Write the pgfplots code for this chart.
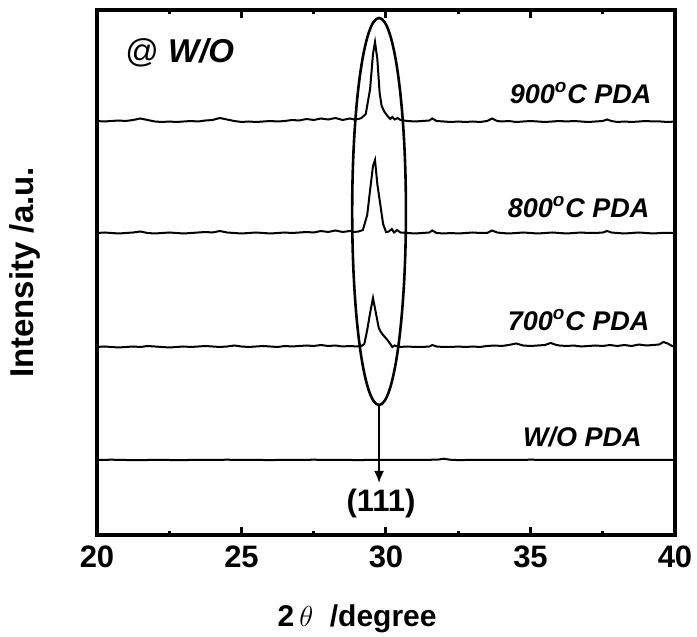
\documentclass[border=0pt]{standalone}
\usepackage{pgfplots}
\pgfplotsset{compat=1.18}
\usepackage{fontspec}
\setmainfont{Liberation Sans}
\usetikzlibrary{arrows.meta}
\begin{document}
\begin{tikzpicture}
\begin{axis}[
  scale only axis, width=289pt, height=262.5pt,
  xmin=20, xmax=40, ymin=0, ymax=525,
  xtick={20,25,30,35,40}, minor x tick num=1, ytick=\empty,
  axis line style={line width=2pt},
  major tick length=4pt, minor tick length=2pt,
  every tick/.style={line width=1.5pt, black},
  /pgf/number format/assume math mode=true,
  tick label style={font=\fontsize{15.5}{18}\selectfont\bfseries},
  xticklabel style={yshift=-2pt},
  xlabel={\textbf{2}\,$\theta$\ \ \textbf{/degree}},
  xlabel style={font=\fontsize{15}{18}\selectfont, at={(axis description cs:0.45,0)}, anchor=center, yshift=-42pt},
  ylabel={\textbf{Intensity /a.u.}},
  ylabel style={font=\fontsize{16.5}{19}\selectfont, at={(axis description cs:-0.125,0.5)}, anchor=center, rotate=0},
  clip=false,
]
% 900 C
\addplot[black, line width=1pt] coordinates {
(20.0,414) (20.25,413.5) (20.5,414) (20.75,414.5) (21.0,414) (21.25,415) (21.5,416.5) (21.75,415)
(22.0,413.5) (22.25,413) (22.5,413.5) (22.75,413) (23.0,413.5) (23.25,414) (23.5,413.5) (23.75,414.5)
(24.0,415) (24.25,417) (24.5,415.5) (24.75,414) (25.0,413) (25.25,413.5) (25.5,413) (25.75,413.5)
(26.0,414) (26.25,413.5) (26.5,414) (26.75,415) (27.0,414.5) (27.25,416) (27.5,415) (27.75,416.5)
(28.0,415.5) (28.25,417) (28.5,415) (28.75,416.5) (28.9,415.5) (29.05,416) (29.15,417) (29.3,421)
(29.45,446) (29.55,481) (29.62,493) (29.7,476) (29.78,442) (29.85,429) (29.95,423) (30.05,419)
(30.15,416) (30.22,418) (30.3,415.5) (30.4,417) (30.5,415) (30.6,414.5) (30.75,414) (31.0,413.5)
(31.25,414) (31.5,414.5) (31.6,416.5) (31.75,414) (32.0,413.5) (32.25,413) (32.5,413.5) (32.75,413)
(33.0,413.5) (33.25,413) (33.5,414) (33.67,416.5) (33.85,414) (34.0,413.5) (34.25,414) (34.5,413)
(34.75,413.5) (35.0,414) (35.25,413.5) (35.5,413) (35.75,413.5) (36.0,414) (36.25,413.5) (36.5,414)
(36.75,413.5) (37.0,413) (37.25,413.5) (37.5,414) (37.65,415.5) (37.8,414) (38.0,413) (38.25,413.5)
(38.5,413) (38.75,413.5) (39.0,414) (39.25,413.5) (39.5,413.5) (39.75,413) (40.0,413.5)
};
% 800 C
\addplot[black, line width=1pt] coordinates {
(20.0,302) (20.25,302.5) (20.5,302) (20.75,301.5) (21.0,302) (21.25,302.5) (21.5,303.5) (21.75,302)
(22.0,301.5) (22.25,302) (22.5,302.5) (22.75,302) (23.0,301.5) (23.25,302) (23.5,302.5) (23.75,303)
(24.0,302.5) (24.25,304) (24.5,302.5) (24.75,302) (25.0,301.5) (25.25,302) (25.5,302.5) (25.75,302)
(26.0,301.5) (26.25,302) (26.5,302.5) (26.75,302) (27.0,302.5) (27.25,303) (27.5,302.5) (27.75,304)
(28.0,303) (28.25,304.5) (28.5,303) (28.75,304) (28.9,303) (29.05,303.5) (29.2,305) (29.35,320)
(29.45,345) (29.55,369) (29.62,375) (29.7,351) (29.8,331) (29.9,311) (30.0,303) (30.1,303.5)
(30.2,306) (30.28,302.5) (30.38,305) (30.5,302.5) (30.75,302) (31.0,301.5) (31.25,302) (31.5,302.5)
(31.6,304.5) (31.75,302) (32.0,301.5) (32.25,302) (32.5,301.5) (32.75,302) (33.0,302.5) (33.25,302)
(33.5,302) (33.67,304.5) (33.85,302.5) (34.0,302) (34.25,301.5) (34.5,302) (34.75,302.5) (35.0,302)
(35.25,301.5) (35.5,302) (35.75,302.5) (36.0,302) (36.25,301.5) (36.5,302) (36.75,302.5) (37.0,302)
(37.25,302) (37.5,302.5) (37.65,304) (37.8,302.5) (38.0,302) (38.25,301.5) (38.5,302) (38.75,302.5)
(39.0,302) (39.25,301.5) (39.5,302) (39.75,302) (40.0,302)
};
% 700 C
\addplot[black, line width=1pt] coordinates {
(20.0,188) (20.25,188.5) (20.5,188) (20.75,187.5) (21.0,188) (21.25,188.5) (21.5,188) (21.75,189)
(22.0,188.5) (22.25,188) (22.5,187.5) (22.75,188) (23.0,188.5) (23.25,188) (23.5,188.5) (23.75,189)
(24.0,188.5) (24.25,188) (24.5,188.5) (24.75,189.5) (25.0,188.5) (25.25,188) (25.5,188.5) (25.75,189)
(26.0,188.5) (26.25,188) (26.5,189) (26.75,188.5) (27.0,189) (27.25,189.5) (27.5,189) (27.75,190)
(28.0,189) (28.25,189.5) (28.5,188.5) (28.75,189) (29.0,188.5) (29.15,189) (29.25,191) (29.35,205)
(29.45,222) (29.55,237) (29.65,222) (29.75,207) (29.82,203) (29.9,200) (30.05,195) (30.15,191)
(30.22,188) (30.3,189.5) (30.45,188) (30.75,188.5) (31.0,188) (31.25,188) (31.5,188.5) (31.6,190)
(31.75,188.5) (32.0,188) (32.25,188) (32.5,188.5) (32.75,188) (33.0,188.5) (33.25,188) (33.5,189)
(33.75,189.5) (34.0,189) (34.25,190) (34.5,191.5) (34.75,189.5) (35.0,189) (35.25,189.5) (35.5,190)
(35.7,192) (35.9,190) (36.0,189.5) (36.25,189) (36.5,189.5) (36.75,188.5) (37.0,189) (37.25,189.5)
(37.5,189) (37.75,190) (38.0,189) (38.25,190) (38.5,189) (38.75,190.5) (39.0,189.5) (39.25,190)
(39.45,190.5) (39.6,193) (39.75,191.5) (39.9,189) (40.0,188.5)
};
% W/O
\addplot[black, line width=1pt] coordinates {
(20.0,75) (20.5,75.3) (21.0,75) (21.5,74.8) (22.0,75.2) (22.5,75) (23.0,74.9) (23.5,75.2)
(24.0,75) (24.5,75.3) (25.0,75) (25.5,75.1) (26.0,74.9) (26.5,75.2) (27.0,75) (27.5,75.3)
(28.0,75) (28.5,75.2) (29.0,74.9) (29.5,75.1) (30.0,75) (30.5,75.2) (31.0,75) (31.5,75.2)
(31.8,75.4) (32.0,76.3) (32.2,75.3) (32.5,74.9) (33.0,75.1) (33.5,75) (34.0,75.2) (34.5,75)
(35.0,75.3) (35.5,75.1) (36.0,75.2) (36.5,75) (37.0,75) (37.5,75.1) (38.0,75) (38.5,75.2)
(39.0,75) (39.5,75.1) (40.0,75)
};
\draw[line width=1.3pt] (axis cs:29.76,323.5) ellipse [x radius=0.93, y radius=193.5];
\draw[line width=1pt, -{Latex[length=6pt,width=5pt]}] (axis cs:29.76,130) -- (axis cs:29.76,52);
\node[font=\fontsize{15.5}{18}\selectfont\bfseries] at (axis cs:29.83,32) {(111)};
\node[anchor=west, inner sep=0pt, font=\fontsize{16.5}{19}\selectfont] at (axis cs:20.97,482) {@ \textbf{\textit{W/O}}};
\node[anchor=east, inner sep=0pt, font=\fontsize{13.5}{16}\selectfont\bfseries\itshape] at (axis cs:39.2,442) {900\textsuperscript{o}C PDA};
\node[anchor=east, inner sep=0pt, font=\fontsize{13.5}{16}\selectfont\bfseries\itshape] at (axis cs:39.13,328) {800\textsuperscript{o}C PDA};
\node[anchor=east, inner sep=0pt, font=\fontsize{13.5}{16}\selectfont\bfseries\itshape] at (axis cs:39.13,215) {700\textsuperscript{o}C PDA};
\node[anchor=east, inner sep=0pt, font=\fontsize{13.5}{16}\selectfont\bfseries\itshape] at (axis cs:38.86,98) {W/O PDA};
\end{axis}
\pgfresetboundingbox
\path[use as bounding box] ([shift={(-48.5pt,-51pt)}]current axis.south west) rectangle ([shift={(11pt,5pt)}]current axis.north east);
\end{tikzpicture}
\end{document}
